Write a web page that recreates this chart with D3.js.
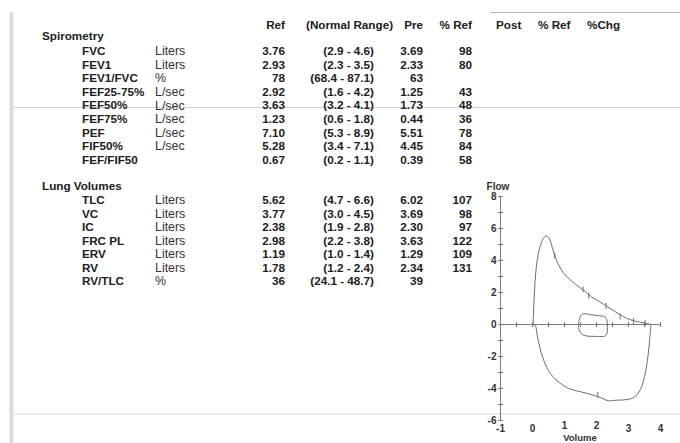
<!DOCTYPE html>
<html><head><meta charset="utf-8">
<script src="https://cdn.jsdelivr.net/npm/d3@7"></script>
<style>
html,body{margin:0;padding:0;background:#fff;}
svg{display:block;font-family:"Liberation Sans",Arial,Helvetica,sans-serif;}
</style></head><body>
<svg id="chart" width="680" height="443"></svg>
<script>
// ---- Spirometry ----
const spiroNames  = ["FVC","FEV1","FEV1/FVC","FEF25-75%","FEF50%","FEF75%","PEF","FIF50%","FEF/FIF50"];
const spiroUnits  = ["Liters","Liters","%","L/sec","L/sec","L/sec","L/sec","L/sec",""];
const spiroRef    = ["3.76","2.93","78","2.92","3.63","1.23","7.10","5.28","0.67"];
const spiroRange  = ["(2.9 - 4.6)","(2.3 - 3.5)","(68.4 - 87.1)","(1.6 - 4.2)","(3.2 - 4.1)","(0.6 - 1.8)","(5.3 - 8.9)","(3.4 - 7.1)","(0.2 - 1.1)"];
const spiroPre    = ["3.69","2.33","63","1.25","1.73","0.44","5.51","4.45","0.39"];
const spiroPctRef = ["98","80","","43","48","36","78","84","58"];

// ---- Lung volumes ----
const lungNames  = ["TLC","VC","IC","FRC PL","ERV","RV","RV/TLC"];
const lungUnits  = ["Liters","Liters","Liters","Liters","Liters","Liters","%"];
const lungRef    = ["5.62","3.77","2.38","2.98","1.19","1.78","36"];
const lungRange  = ["(4.7 - 6.6)","(3.0 - 4.5)","(1.9 - 2.8)","(2.2 - 3.8)","(1.0 - 1.4)","(1.2 - 2.4)","(24.1 - 48.7)"];
const lungPre    = ["6.02","3.69","2.30","3.63","1.29","2.34","39"];
const lungPctRef = ["107","98","97","122","109","131",""];

const headers = ["Ref","(Normal Range)","Pre","% Ref","Post","% Ref","%Chg"];

// ---- Flow-volume loop (volume L, flow L/s) ----
const expVolume = [0.02,0.03,0.05,0.08,0.12,0.18,0.25,0.33,0.41,0.47,0.52,0.57,0.62,0.68,0.75,0.85,0.98,1.15,1.35,1.6,1.85,2.1,2.35,2.6,2.85,3.1,3.35,3.55,3.7];
const expFlow   = [0,0.6,1.6,2.7,3.6,4.4,4.95,5.35,5.52,5.5,5.4,5.15,4.8,4.4,4.0,3.6,3.2,2.85,2.5,2.14,1.72,1.42,1.1,0.78,0.48,0.27,0.15,0.07,0];
const inspVolume = [3.7,3.68,3.66,3.62,3.56,3.5,3.43,3.33,3.22,3.1,2.96,2.8,2.65,2.5,2.38,2.25,2.12,1.95,1.71,1.5,1.29,1.08,0.88,0.7,0.56,0.45,0.35,0.27,0.2,0.15,0.12,0.1,0.06,0.02];
const inspFlow   = [0,-0.5,-1.0,-1.8,-2.65,-3.25,-3.79,-4.2,-4.48,-4.62,-4.69,-4.72,-4.73,-4.75,-4.77,-4.68,-4.56,-4.45,-4.31,-4.2,-4.1,-3.95,-3.69,-3.4,-3.06,-2.7,-2.23,-1.75,-1.19,-0.7,-0.3,-0.1,-0.05,0];
const tidalVolume = [1.43,1.45,1.48,1.53,1.6,1.75,1.95,2.15,2.27,2.32,2.34,2.34,2.32,2.25,2.1,1.9,1.7,1.55,1.47,1.43];
const tidalFlow   = [-0.1,0.2,0.45,0.6,0.67,0.64,0.58,0.53,0.47,0.3,0.0,-0.35,-0.62,-0.74,-0.75,-0.74,-0.72,-0.62,-0.4,-0.1];
const markVolume = [0.70,1.58,1.76,2.30,2.74,3.16,3.52,2.04];
const markFlow   = [4.30,2.20,1.80,1.16,0.50,0.22,0.08,-4.40];

const volTicks = [-1,-0.5,0,0.5,1,1.5,2,2.5,3,3.5,4];
const volLabels = [-1,0,1,2,3,4];
const flowTicks = [-6,-5,-4,-3,-2,-1,0,1,2,3,4,5,6,7,8];
const flowLabels = [-6,-4,-2,0,2,4,6,8];

const svg = d3.select("#chart");
const ink = "#202020";

// paper marks of the printed sheet
svg.append("rect").attr("x",9.5).attr("y",12).attr("width",4).attr("height",431).attr("fill","#dcdcdc");
svg.append("line").attr("x1",14).attr("x2",680).attr("y1",107.5).attr("y2",107.5).attr("stroke","#cdd1da").attr("stroke-width",1.2);
svg.append("line").attr("x1",14).attr("x2",680).attr("y1",414).attr("y2",414).attr("stroke","#d4d8e0").attr("stroke-width",1.2);
svg.append("line").attr("x1",490).attr("x2",680).attr("y1",12.5).attr("y2",12.5).attr("stroke","#b8b8b8").attr("stroke-width",1);

// ---- Table ----
const fs = 11.7;
function txt(x, y, s, anchor, weight, size, fill) {
  svg.append("text").attr("x",x).attr("y",y).attr("dy","0.36em")
    .attr("text-anchor",anchor||"start").attr("font-weight",weight||"bold")
    .attr("font-size",size||fs).attr("fill",fill||ink).text(s);
}
// header row
const headerX = [285,306,423,472,496,538,587];
const headerAnchor = ["end","start","end","end","start","start","start"];
headers.forEach((h,i)=>txt(headerX[i],25,h,headerAnchor[i]));

function section(title, titleY, rowY, names, units, ref, range, pre, pct) {
  txt(42, titleY, title);
  const y = d3.scaleLinear().domain([0,1]).range(rowY);
  names.forEach((n,i)=>{
    const yy = y(i);
    txt(82, yy, n);
    if (units[i]) txt(155, yy, units[i], "start", "normal", 12.4, "#333");
    txt(285, yy, ref[i], "end");
    txt(374, yy, range[i], "end");
    txt(423, yy, pre[i], "end");
    if (pct[i]) txt(472, yy, pct[i], "end");
  });
}
section("Spirometry", 35.5, [50.7,64.3], spiroNames, spiroUnits, spiroRef, spiroRange, spiroPre, spiroPctRef);
section("Lung Volumes", 185.7, [200,213.5], lungNames, lungUnits, lungRef, lungRange, lungPre, lungPctRef);

// ---- Flow-volume loop ----
const x = d3.scaleLinear().domain([-1,4]).range([500.5,660.5]);
const y = d3.scaleLinear().domain([-6,8]).range([420.5,196.5]);
const axisCol = "#7a7a7a";
const g = svg.append("g");

// vertical flow axis
g.append("line").attr("x1",x(-1)).attr("x2",x(-1)).attr("y1",y(8)).attr("y2",y(-6)).attr("stroke",axisCol);
g.selectAll(".yt").data(flowTicks).join("line")
  .attr("x1",x(-1)-2.5).attr("x2",x(-1)+2.5).attr("y1",d=>y(d)).attr("y2",d=>y(d)).attr("stroke",axisCol);
g.selectAll(".yl").data(flowLabels).join("text")
  .attr("x",x(-1)-4).attr("y",d=>y(d)).attr("dy","0.36em").attr("text-anchor","end")
  .attr("font-size",10).attr("font-weight","bold").attr("fill","#333").text(d=>d);
g.append("text").attr("x",498).attr("y",186.5).attr("dy","0.36em").attr("text-anchor","middle")
  .attr("font-size",10).attr("font-weight","bold").attr("fill","#333").text("Flow");

// horizontal volume axis at zero flow
g.append("line").attr("x1",x(-1)).attr("x2",x(4)).attr("y1",y(0)).attr("y2",y(0)).attr("stroke",axisCol);
g.selectAll(".xt").data(volTicks).join("line")
  .attr("x1",d=>x(d)).attr("x2",d=>x(d)).attr("y1",y(0)-2.5).attr("y2",y(0)+2.5).attr("stroke",axisCol);
// labels sitting above the axis title are raised a little
g.selectAll(".xl").data(volLabels).join("text")
  .attr("x",d=>x(d)).attr("y",d=>(d===1||d===2)?425:428.5).attr("dy","0.36em").attr("text-anchor","middle")
  .attr("font-size",10).attr("font-weight","bold").attr("fill","#333").text(d=>d);
g.append("text").attr("x",580).attr("y",437.5).attr("dy","0.36em").attr("text-anchor","middle")
  .attr("font-size",9.5).attr("font-weight","bold").attr("fill","#333").text("Volume");

// curves
const line = d3.line().x(d=>x(d[0])).y(d=>y(d[1])).curve(d3.curveCatmullRom.alpha(0.5));
const curveCol = "#6e6e6e";
const exp = expVolume.map((v,i)=>[v,expFlow[i]]);
const insp = inspVolume.map((v,i)=>[v,inspFlow[i]]);
const tidal = tidalVolume.map((v,i)=>[v,tidalFlow[i]]);
[exp, insp, tidal].forEach(pts=>{
  g.append("path").attr("d",line(pts)).attr("fill","none").attr("stroke",curveCol).attr("stroke-width",1);
});
// timing marks on the curve
g.selectAll(".mk").data(markVolume.map((v,i)=>[v,markFlow[i]])).join("line")
  .attr("x1",d=>x(d[0])).attr("x2",d=>x(d[0]))
  .attr("y1",d=>y(d[1])-3).attr("y2",d=>y(d[1])+3)
  .attr("stroke",curveCol).attr("stroke-width",1);
</script>
</body></html>
